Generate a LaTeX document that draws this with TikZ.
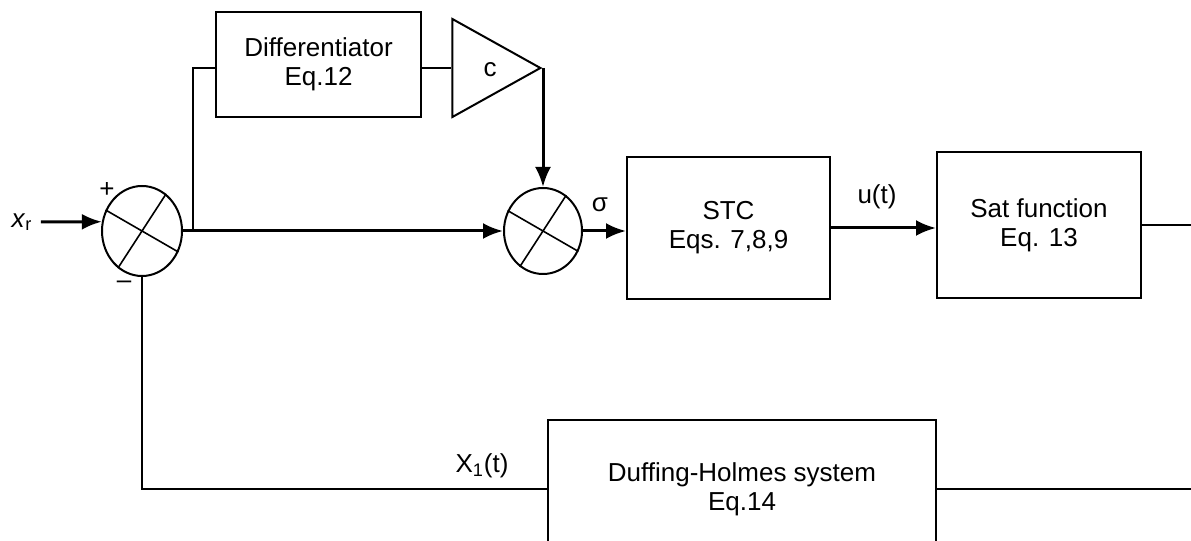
\documentclass[tikz,border=0pt]{standalone}
\usepackage{fontspec}
\setmainfont{Liberation Sans}
\usetikzlibrary{positioning,shapes.geometric,arrows.meta}

\begin{document}
\begin{tikzpicture}[x=0.5pt,y=0.5pt,font=\fontsize{13}{14.5}\selectfont,>={Latex[length=10pt,width=8pt]}]
\tikzset{blk/.style={draw,line width=1pt,align=center,inner sep=0pt},
         sumj/.style={draw,ellipse,line width=1pt,inner sep=0pt,minimum width=40pt,minimum height=45pt},
         arr/.style={->,line width=1.5pt},
         wire/.style={line width=0.8pt},
         lbl/.style={inner sep=0pt}}
\useasboundingbox (0,0) rectangle (1191,541);
\clip (0,0) rectangle (1191,541);
% summing junctions
\node[sumj] (sum1) at (142,310) {};
\node[sumj,minimum width=39pt,minimum height=43pt] (sum2) at (543,310) {};
\draw[wire] (sum1.150) -- (sum1.-30) (sum1.57) -- (sum1.237);
\draw[wire] (sum2.150) -- (sum2.-30) (sum2.57) -- (sum2.237);
% blocks
\node[blk,minimum width=102.5pt,minimum height=52.5pt] (diff) at (318.5,476.5) {Differentiator\\Eq.12};
\node[draw,isosceles triangle,isosceles triangle stretches,minimum width=49pt,minimum height=44pt,line width=1pt,inner sep=0pt,anchor=apex] (gain) at (543,473) {};
\node[blk,minimum width=101.5pt,minimum height=71pt] (stc) at (728.5,313) {STC\\Eqs. 7,8,9};
\node[blk,minimum width=102pt,minimum height=73pt] (sat) at (1039,316) {Sat function\\Eq. 13};
\node[blk,minimum width=194pt,minimum height=68.5pt] (duff) at (742,52) {Duffing-Holmes system\\Eq.14};
% labels
\node[lbl] (c) at (490,471) {c};
\node[lbl] (xr) at (22,319) {\textit{x}\textsubscript{r}};
\node[lbl] (plus) at (107,351) {+};
\node[lbl] (minus) at (124,256) {–};
\node[lbl] (sig) at (600,336) {σ};
\node[lbl] (ut) at (877,344) {u(t)};
\node[lbl] (x1) at (482,75) {X\textsubscript{1}(t)};
\coordinate (br) at (193,310);
\coordinate (out1) at (1195,316);
\coordinate (out2) at (1195,52);
% connections
\draw[arr] ([xshift=4pt]xr.east) -- (sum1.167);
\draw[arr] (sum1.east) -- (sum2.west);
\draw[wire] (br) |- (diff.west |- gain.west);
\draw[wire] (gain.west -| diff.east) -- (gain.west);
\draw[arr] (gain.apex) -- (gain.apex |- sum2.north);
\draw[arr] (sum2.east) -- (sum2.east -| stc.west);
\draw[arr] (stc.east) -- (stc.east -| sat.west);
\draw[wire] (sat.east) -- (out1);
\draw[wire] (sum1.south) |- (duff.west);
\draw[wire] (duff.east) -- (out2);
\end{tikzpicture}
\end{document}
